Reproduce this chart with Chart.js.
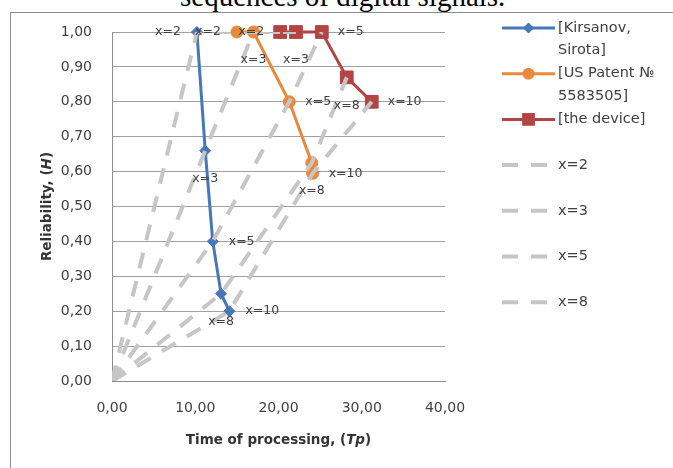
<!DOCTYPE html>
<html>
<head>
<meta charset="utf-8">
<script src="https://cdn.jsdelivr.net/npm/chart.js"></script>
<style>
  body { margin: 0; background: #fff; }
  #wrap { position: relative; width: 673px; height: 468px; overflow: hidden; }
  .caption {
    position: absolute; left: 180px; top: -18px;
    font: 29px/29px "Liberation Serif", serif; color: #000; white-space: nowrap;
  }
  .frame {
    position: absolute; left: 10px; top: 12px; width: 720px; height: 520px;
    border: 1px solid #8c8c8c;
  }
  canvas { position: absolute; left: 0; top: 0; }
</style>
</head>
<body>
<div id="wrap">
  <div class="caption">sequences of digital signals.</div>
  <div class="frame"></div>
  <canvas id="myChart" width="673" height="468"></canvas>
</div>
<script>
// values
const params = ["x=2", "x=3", "x=5", "x=8", "x=10"];
const kirsanovTime = [10.2, 11.2, 12.1, 13.1, 14.1];
const kirsanovRel = [1.0, 0.66, 0.4, 0.25, 0.2];
const patentTime = [15.0, 17.0, 21.3, 24.0, 24.1];
const patentRel = [1.0, 1.0, 0.8, 0.625, 0.595];
const deviceTime = [20.2, 22.1, 25.2, 28.2, 31.2];
const deviceRel = [1.0, 1.0, 1.0, 0.87, 0.8];
const originTime = 0;
const originRel = 0;

const timeTicks = [0, 10, 20, 30, 40];
const relTicks = [0, 0.1, 0.2, 0.3, 0.4, 0.5, 0.6, 0.7, 0.8, 0.9, 1.0];

// axis titles, the part in brackets is italic
const xTitle = [["Time of processing, (", false], ["Tp", true], [")", false]];
const yTitle = [["Reliability, (", false], ["H", true], [")", false]];

// where each point label sits (index = x value)
const labelPos = ["left", "below", "right", "below", "right"];

const toPoints = (xs, ys) => xs.map((v, i) => ({ x: v, y: ys[i] }));
const comma = (v) => v.toFixed(2).replace(".", ",");

const methodSets = [
  {
    label: "[Kirsanov, Sirota]",
    legendText: ["[Kirsanov,", "Sirota]"],
    data: toPoints(kirsanovTime, kirsanovRel),
    borderColor: "#4677b8",
    backgroundColor: "#4677b8",
    borderWidth: 3,
    pointStyle: "rectRot",
    pointRadius: 5.5,
  },
  {
    label: "[US Patent № 5583505]",
    legendText: ["[US Patent №", "5583505]"],
    data: toPoints(patentTime, patentRel),
    borderColor: "#e8893b",
    backgroundColor: "#e8893b",
    borderWidth: 3,
    pointStyle: "circle",
    pointRadius: 6,
  },
  {
    label: "[the device]",
    legendText: ["[the device]"],
    data: toPoints(deviceTime, deviceRel),
    borderColor: "#b24442",
    backgroundColor: "#b24442",
    borderWidth: 3,
    pointStyle: "rect",
    pointRadius: 9,
  },
].map((ds) => ({
  ...ds,
  showLine: true,
  pointText: params,
  pointBorderWidth: 1,
  pointHoverRadius: ds.pointRadius,
  clip: false,
  order: 1,
}));

// dashed lines joining the same x value across the methods
const isoSets = params.map((p, i) => ({
  label: p,
  legendText: i < 4 ? [p] : null,
  data: [
    { x: originTime, y: originRel },
    { x: kirsanovTime[i], y: kirsanovRel[i] },
    { x: patentTime[i], y: patentRel[i] },
    { x: deviceTime[i], y: deviceRel[i] },
  ],
  showLine: true,
  borderColor: "#c6c6c6",
  borderWidth: 4,
  borderDash: [16, 13],
  pointRadius: 0,
  pointHoverRadius: 0,
  order: 0,
}));

function markPoint(ctx, style, r, x, y, color) {
  ctx.save();
  ctx.fillStyle = color;
  ctx.beginPath();
  if (style === "circle") ctx.arc(x, y, r, 0, Math.PI * 2);
  else if (style === "rect") {
    const s = r * Math.SQRT1_2;
    ctx.rect(x - s, y - s, 2 * s, 2 * s);
  } else {
    ctx.moveTo(x - r, y);
    ctx.lineTo(x, y - r);
    ctx.lineTo(x + r, y);
    ctx.lineTo(x, y + r);
    ctx.closePath();
  }
  ctx.fill();
  ctx.restore();
}

// draws a title made of plain and italic pieces, centred on (0,0)
function mixedText(ctx, parts, size) {
  const fontFor = (it) => (it ? "italic " : "") + "bold " + size + "px 'DejaVu Sans'";
  let total = 0;
  parts.forEach(([t, it]) => { ctx.font = fontFor(it); total += ctx.measureText(t).width; });
  let x = -total / 2;
  parts.forEach(([t, it]) => {
    ctx.font = fontFor(it);
    ctx.fillText(t, x, 0);
    x += ctx.measureText(t).width;
  });
}

//axis titles
const axisTitles = {
  id: "axisTitles",
  afterDraw(chart, args, opts) {
    const ctx = chart.ctx;
    const area = chart.chartArea;
    ctx.save();
    ctx.fillStyle = opts.color;
    ctx.textAlign = "left";
    ctx.textBaseline = "middle";
    ctx.translate((area.left + area.right) / 2, opts.xTitleY);
    mixedText(ctx, xTitle, opts.size);
    ctx.restore();
    ctx.save();
    ctx.fillStyle = opts.color;
    ctx.textAlign = "left";
    ctx.textBaseline = "middle";
    ctx.translate(opts.yTitleX, (area.top + area.bottom) / 2);
    ctx.rotate(-Math.PI / 2);
    mixedText(ctx, yTitle, opts.size);
    ctx.restore();
  },
};

//labels next to the points
const pointLabels = {
  id: "pointLabels",
  afterDatasetsDraw(chart, args, opts) {
    const ctx = chart.ctx;
    ctx.save();
    ctx.font = opts.font;
    ctx.fillStyle = opts.color;
    chart.data.datasets.forEach((ds, i) => {
      if (!ds.pointText) return;
      chart.getDatasetMeta(i).data.forEach((pt, j) => {
        const pos = opts.positions[j];
        let x = pt.x;
        let y = pt.y;
        ctx.textBaseline = "middle";
        if (pos === "left") {
          ctx.textAlign = "right";
          x -= opts.side;
        } else if (pos === "right") {
          ctx.textAlign = "left";
          x += opts.side;
        } else {
          ctx.textAlign = "center";
          y += opts.below;
        }
        ctx.fillText(ds.pointText[j], x, y);
      });
    });
    ctx.restore();
  },
};

//legend at the right
const sideLegend = {
  id: "sideLegend",
  afterDraw(chart, args, opts) {
    const ctx = chart.ctx;
    let y = opts.top;
    chart.data.datasets.forEach((ds) => {
      if (!ds.legendText) return;
      ctx.save();
      ctx.strokeStyle = ds.borderColor;
      ctx.lineWidth = ds.borderWidth;
      ctx.setLineDash(ds.borderDash || []);
      ctx.beginPath();
      ctx.moveTo(opts.left, y);
      ctx.lineTo(opts.left + opts.length, y);
      ctx.stroke();
      ctx.restore();
      if (ds.pointRadius > 0) {
        markPoint(ctx, ds.pointStyle, ds.pointRadius, opts.left + opts.length / 2, y, ds.backgroundColor);
      }
      ctx.save();
      ctx.font = opts.font;
      ctx.fillStyle = opts.color;
      ctx.textAlign = "left";
      ctx.textBaseline = "middle";
      ds.legendText.forEach((t, k) => {
        ctx.fillText(t, opts.left + opts.length + opts.gap, y + k * opts.lineGap);
      });
      ctx.restore();
      y += opts.step;
    });
  },
};

Chart.defaults.font.family = "'DejaVu Sans', sans-serif";
Chart.defaults.color = "#404040";

new Chart("myChart", {
  type: "scatter",
  data: { datasets: [...methodSets, ...isoSets] },
  options: {
    responsive: false,
    animation: false,
    events: [],
    layout: { padding: { top: 32, right: 228, bottom: 0, left: 0 } },
    plugins: {
      legend: { display: false },
      tooltip: { enabled: false },
      axisTitles: { color: "#333", size: 13.5, xTitleY: 440, yTitleX: 47 },
      pointLabels: {
        font: "12.5px 'DejaVu Sans'",
        color: "#404040",
        positions: labelPos,
        side: 16,
        below: 28,
      },
      sideLegend: {
        left: 502,
        top: 28,
        length: 53,
        gap: 3,
        step: 45.7,
        lineGap: 22.5,
        font: "14.5px 'DejaVu Sans'",
        color: "#404040",
      },
    },
    scales: {
      x: {
        type: "linear",
        min: timeTicks[0],
        max: timeTicks[timeTicks.length - 1],
        afterBuildTicks: (s) => { s.ticks = timeTicks.map((v) => ({ value: v })); },
        afterFit: (s) => { s.height = 87; },
        grid: { display: false, drawTicks: false },
        border: { display: true, color: "#8c8c8c", width: 1 },
        ticks: { padding: 19, font: { size: 14 }, callback: (v) => comma(v) },
      },
      y: {
        type: "linear",
        min: relTicks[0],
        max: relTicks[relTicks.length - 1],
        afterBuildTicks: (s) => { s.ticks = relTicks.map((v) => ({ value: v })); },
        afterFit: (s) => { s.width = 112; },
        grid: { color: "#a0a0a0", drawTicks: false },
        border: { display: true, color: "#8c8c8c", width: 1 },
        ticks: { padding: 20, font: { size: 14 }, callback: (v) => comma(v) },
      },
    },
  },
  plugins: [pointLabels, sideLegend, axisTitles],
});
</script>
</body>
</html>
